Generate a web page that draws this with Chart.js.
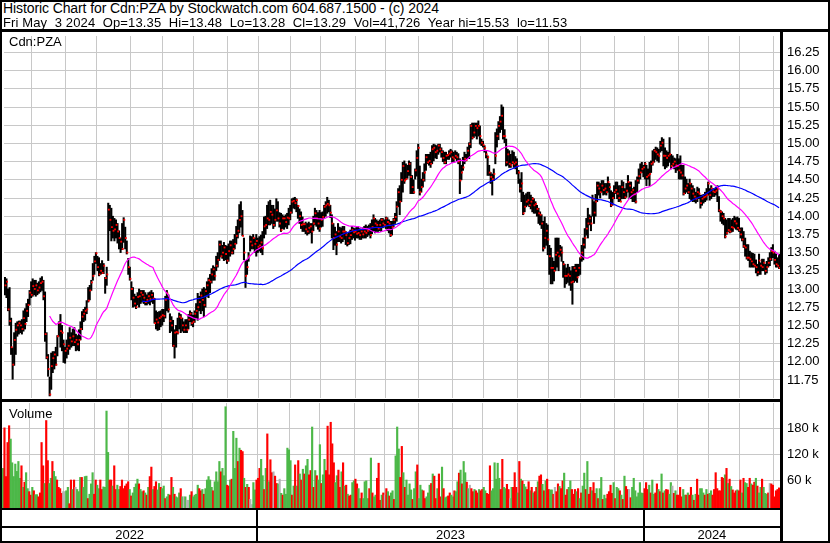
<!DOCTYPE html>
<html><head><meta charset="utf-8">
<script src="https://cdn.jsdelivr.net/npm/chart.js@4.4.1/dist/chart.umd.min.js"></script>
<style>
html,body{margin:0;padding:0;background:#fff;}
#wrap{position:relative;width:830px;height:543px;overflow:hidden;font-family:"Liberation Sans",Arial,sans-serif;color:#000;}
canvas{position:absolute;left:0;}
.ln{position:absolute;background:#000;z-index:5;}
.txt{position:absolute;white-space:pre;z-index:6;line-height:15px;}
</style></head>
<body><div id="wrap">
<canvas id="pc" width="830" height="370" style="top:32px"></canvas>
<canvas id="vc" width="830" height="141" style="top:402px"></canvas>
<div class="txt" id="h1" style="left:3px;top:1px;font-size:14px;letter-spacing:-0.1px"></div>
<div class="txt" id="h2" style="left:3px;top:15px;font-size:13px;letter-spacing:0.13px"></div>
<div class="txt" id="sym" style="left:9px;top:34px;font-size:13px"></div>
<div class="txt" id="vlab" style="left:9px;top:406px;font-size:13px"></div>
<div class="ln" style="left:0;top:0;width:830px;height:2px"></div>
<div class="ln" style="left:0;top:541px;width:830px;height:2px"></div>
<div class="ln" style="left:0;top:0;width:2px;height:543px"></div>
<div class="ln" style="left:828px;top:0;width:2px;height:543px"></div>
<div class="ln" style="left:0;top:29px;width:830px;height:3px"></div>
<div class="ln" style="left:780px;top:29px;width:3px;height:514px"></div>
<div class="ln" style="left:0;top:399px;width:781px;height:3px"></div>
<div class="ln" style="left:0;top:508px;width:781px;height:2px"></div>
<div class="ln" style="left:0;top:526px;width:781px;height:2px"></div>
</div>
<script>
// ---------- header texts ----------
const titleLine = "Historic Chart for Cdn:PZA by Stockwatch.com 604.687.1500 - (c) 2024";
const infoLine = "Fri May  3 2024  Op=13.35  Hi=13.48  Lo=13.28  Cl=13.29  Vol=41,726  Year hi=15.53  lo=11.53";
const symbolLabel = "Cdn:PZA";
const volumeLabel = "Volume";
const yearLabels = ["2022", "2023", "2024"];
const priceTicks = [11.75,12.00,12.25,12.50,12.75,13.00,13.25,13.50,13.75,14.00,14.25,14.50,14.75,15.00,15.25,15.50,15.75,16.00,16.25];
const volumeTicks = [60,120,180];   // thousands
const firstDay = "2022-05-04", lastDay = "2024-05-03";
const holidays = ["2022-05-23","2022-07-01","2022-08-01","2022-09-05","2022-10-10","2022-12-26","2022-12-27",
"2023-01-02","2023-02-20","2023-04-07","2023-05-22","2023-07-03","2023-08-07","2023-09-04","2023-10-09","2023-12-25","2023-12-26",
"2024-01-01","2024-02-19","2024-03-29"];

// ---------- daily closes ----------
const closes = [
13.05,13.10,12.72,12.56,12.20,11.96,12.30,12.44,12.50,12.53,
12.50,12.45,12.60,12.52,12.70,12.78,12.95,12.92,13.04,13.00,
13.05,12.98,13.02,13.08,13.10,12.90,12.38,12.06,11.90,11.55,
11.94,12.05,12.10,11.96,12.35,12.53,12.42,12.40,12.24,12.15,
12.18,12.22,12.33,12.28,12.35,12.27,12.30,12.24,12.30,12.45,
12.62,12.66,12.70,12.72,12.84,12.98,13.09,13.18,13.38,13.49,
13.30,13.20,13.25,13.22,13.32,13.15,13.20,14.09,13.95,13.85,
13.80,13.82,13.88,13.79,13.70,13.65,13.55,13.95,13.70,13.50,
13.30,13.14,13.00,12.88,12.80,12.75,12.89,12.90,12.95,12.92,
12.88,12.82,12.85,12.90,12.86,12.92,12.87,12.53,12.58,12.54,
12.60,12.62,12.64,12.63,12.85,12.94,12.72,12.56,12.50,12.22,
12.40,12.41,12.40,12.62,12.60,12.50,12.44,12.50,12.44,12.58,
12.66,12.53,12.55,12.66,12.70,12.75,12.82,12.91,12.85,12.78,
12.97,13.05,13.12,13.10,13.20,13.27,13.18,13.32,13.40,13.61,
13.45,13.50,13.57,13.48,13.39,13.52,13.60,13.50,13.55,13.62,
13.73,13.80,13.95,14.00,13.73,13.50,13.18,13.30,13.45,13.65,
13.60,13.70,13.62,13.66,13.58,13.60,13.64,13.56,13.86,13.88,
13.97,13.95,14.06,14.02,13.88,13.95,14.08,13.97,13.90,13.81,
13.97,13.97,13.92,13.98,13.97,14.05,14.20,14.21,14.18,14.22,
14.14,14.00,13.88,13.89,13.89,13.82,13.79,13.84,13.86,13.79,
13.90,14.04,13.97,13.90,13.83,13.95,13.99,14.13,14.15,14.17,
14.15,14.05,13.90,13.70,13.75,13.61,13.79,13.72,13.70,13.79,
13.79,13.74,13.63,13.70,13.74,13.81,13.78,13.79,13.76,13.77,
13.74,13.79,13.75,13.79,13.77,13.80,13.83,13.74,13.85,13.97,
13.90,13.88,13.83,13.88,13.95,13.90,13.88,13.97,13.92,13.90,
13.74,13.85,13.95,13.99,14.13,14.33,14.20,14.50,14.69,14.49,
14.51,14.62,14.72,14.54,14.40,14.33,14.63,14.80,14.94,14.33,
14.40,14.50,14.60,14.81,14.74,14.76,14.72,14.92,14.94,14.88,
14.90,14.97,14.92,14.88,14.80,14.74,14.83,14.84,14.86,14.88,
14.81,14.79,14.83,14.81,14.75,14.49,14.60,14.67,14.79,14.77,
14.90,14.99,15.24,15.08,15.15,15.24,15.21,15.24,15.10,15.01,
14.98,14.94,14.85,14.81,14.60,14.54,14.51,14.58,14.83,15.10,
15.24,15.30,15.38,15.10,15.10,14.74,14.85,14.72,14.70,14.74,
14.72,14.74,14.69,14.60,14.38,14.45,14.04,14.13,14.20,14.22,
14.15,14.20,14.24,14.15,14.17,14.10,14.04,14.02,13.90,13.56,
13.70,13.80,13.68,13.45,13.29,13.29,13.25,13.47,13.50,13.45,
13.54,13.50,13.34,13.18,13.18,13.20,13.18,13.09,13.10,13.29,
13.25,13.16,13.29,13.43,13.50,13.61,13.70,13.83,13.90,13.97,
13.90,14.24,14.05,14.20,14.42,14.38,14.33,14.42,14.36,14.38,
14.33,14.47,14.40,14.15,14.25,14.33,14.36,14.31,14.25,14.20,
14.40,14.33,14.26,14.35,14.47,14.42,14.33,14.36,14.30,14.20,
14.49,14.55,14.60,14.65,14.67,14.72,14.54,14.56,14.58,14.72,
14.74,14.90,14.88,14.85,14.83,14.97,15.01,14.83,14.83,14.80,
14.83,14.85,14.69,14.72,14.75,14.70,14.69,14.63,14.60,14.56,
14.31,14.38,14.42,14.33,14.45,14.38,14.31,14.27,14.24,14.33,
14.31,14.18,14.24,14.26,14.27,14.29,14.45,14.29,14.38,14.34,
14.33,14.35,14.38,14.08,14.06,14.00,13.97,13.72,13.77,13.81,
13.79,13.85,13.84,13.93,13.90,13.84,13.81,13.75,13.68,13.59,
13.57,13.43,13.43,13.41,13.38,13.34,13.32,13.30,13.23,13.39,
13.32,13.30,13.36,13.25,13.30,13.36,13.41,13.52,13.50,13.40,
13.34,13.32,13.29];

// ---------- daily highs ----------
const highs = [
13.16,13.14,13.00,13.02,12.60,12.19,12.40,12.53,12.55,12.56,
12.56,12.58,12.70,12.73,12.80,12.86,12.98,13.10,13.14,13.12,
13.12,13.08,13.10,13.15,13.17,13.12,12.96,12.40,12.10,11.79,
12.12,12.14,12.14,12.20,12.36,12.55,12.65,12.50,12.30,12.20,
12.30,12.40,12.47,12.40,12.45,12.47,12.38,12.36,12.44,12.55,
12.69,12.72,12.75,12.84,13.02,13.05,13.12,13.35,13.45,13.50,
13.45,13.43,13.35,13.39,13.35,13.16,13.30,14.18,14.15,14.11,
14.00,13.97,13.95,13.90,13.80,13.70,13.90,13.98,13.85,13.66,
13.42,13.30,13.10,13.02,12.93,12.90,12.95,13.00,12.98,12.98,
12.98,12.95,12.92,12.95,12.96,12.98,12.95,12.87,12.70,12.68,
12.69,12.70,12.72,12.72,12.90,12.98,12.92,12.66,12.62,12.57,
12.44,12.50,12.60,12.67,12.65,12.60,12.55,12.58,12.58,12.65,
12.70,12.68,12.64,12.70,12.80,12.94,12.90,12.96,13.00,13.02,
13.00,13.10,13.15,13.20,13.28,13.32,13.30,13.45,13.50,13.66,
13.66,13.60,13.64,13.60,13.59,13.62,13.66,13.66,13.68,13.75,
13.86,13.95,14.16,14.20,14.08,13.70,13.39,13.40,13.50,13.73,
13.72,13.75,13.70,13.75,13.70,13.72,13.74,13.79,13.99,14.00,
14.15,14.20,14.22,14.15,14.15,14.10,14.24,14.20,14.05,14.04,
14.02,14.00,14.02,14.04,14.11,14.15,14.24,14.25,14.26,14.24,
14.15,14.10,14.06,13.99,13.90,13.92,13.90,13.92,13.90,13.90,
14.00,14.11,14.08,14.05,14.08,14.05,14.06,14.15,14.20,14.26,
14.22,14.15,14.02,13.90,13.85,13.79,13.90,13.85,13.84,13.86,
13.86,13.79,13.76,13.78,13.81,13.86,13.84,13.83,13.85,13.86,
13.83,13.81,13.84,13.86,13.88,13.86,13.88,13.90,13.95,14.02,
13.97,13.95,13.93,13.95,13.97,13.97,13.95,13.99,13.98,13.95,
13.93,13.93,13.97,14.04,14.20,14.38,14.42,14.60,14.74,14.76,
14.72,14.70,14.76,14.74,14.56,14.50,14.65,14.90,14.99,14.69,
14.51,14.60,14.72,14.85,14.85,14.85,14.88,14.97,14.99,14.98,
14.97,14.99,14.99,14.94,14.90,14.88,14.88,14.85,14.90,14.92,
14.90,14.88,14.90,14.88,14.86,14.79,14.70,14.81,14.88,14.85,
14.95,15.01,15.26,15.28,15.28,15.28,15.28,15.31,15.24,15.06,
15.03,14.97,14.90,14.83,14.70,14.60,14.58,14.65,15.15,15.20,
15.30,15.37,15.53,15.50,15.19,15.06,14.92,14.90,14.85,14.90,
14.88,14.82,14.79,14.63,14.51,14.60,14.33,14.29,14.31,14.33,
14.33,14.29,14.26,14.24,14.20,14.15,14.11,14.06,14.02,13.93,
13.99,13.90,13.88,13.60,13.56,13.43,13.38,13.70,13.70,13.70,
13.60,13.58,13.38,13.34,13.29,13.34,13.30,13.25,13.31,13.31,
13.34,13.34,13.34,13.43,13.60,13.70,13.83,13.97,14.11,14.02,
14.00,14.29,14.20,14.30,14.47,14.47,14.45,14.49,14.49,14.45,
14.45,14.54,14.45,14.35,14.33,14.42,14.47,14.47,14.42,14.42,
14.49,14.47,14.38,14.45,14.56,14.47,14.47,14.38,14.40,14.49,
14.54,14.65,14.72,14.74,14.70,14.74,14.70,14.65,14.74,14.76,
14.90,14.92,14.95,14.94,14.92,15.03,15.08,15.06,14.94,14.90,
14.88,15.08,14.85,14.83,14.80,14.79,14.85,14.79,14.83,14.70,
14.70,14.54,14.51,14.45,14.51,14.45,14.42,14.38,14.33,14.40,
14.38,14.29,14.29,14.30,14.33,14.38,14.47,14.38,14.42,14.38,
14.38,14.40,14.42,14.27,14.08,14.06,14.04,13.97,13.95,13.97,
13.97,13.95,13.97,14.00,13.98,13.99,13.97,13.84,13.84,13.79,
13.70,13.61,13.61,13.52,13.50,13.49,13.48,13.40,13.34,13.48,
13.36,13.41,13.41,13.34,13.38,13.43,13.50,13.57,13.61,13.52,
13.48,13.43,13.48];

// ---------- daily lows ----------
const lows = [
12.92,12.88,12.70,12.50,12.10,11.76,11.95,12.10,12.35,12.38,
12.40,12.38,12.42,12.45,12.55,12.62,12.78,12.88,12.90,12.92,
12.90,12.92,12.94,12.96,12.98,12.85,12.28,12.04,11.80,11.53,
11.62,11.85,11.90,11.95,12.08,12.35,12.20,12.15,11.99,11.98,
12.05,12.10,12.17,12.20,12.22,12.22,12.15,12.16,12.15,12.30,
12.44,12.55,12.57,12.66,12.82,12.85,12.98,13.12,13.20,13.35,
13.25,13.18,13.20,13.21,13.21,12.94,13.05,13.39,13.80,13.66,
13.70,13.66,13.70,13.63,13.55,13.50,13.54,13.64,13.55,13.48,
13.20,13.12,12.85,12.75,12.76,12.73,12.78,12.75,12.80,12.82,
12.80,12.78,12.78,12.80,12.78,12.82,12.80,12.53,12.45,12.43,
12.44,12.48,12.50,12.55,12.60,12.70,12.68,12.40,12.42,12.21,
12.05,12.20,12.38,12.45,12.40,12.42,12.40,12.40,12.40,12.45,
12.55,12.50,12.48,12.54,12.60,12.57,12.70,12.66,12.70,12.62,
12.75,12.90,12.88,12.95,13.08,13.12,13.12,13.25,13.30,13.39,
13.44,13.42,13.39,13.40,13.35,13.38,13.45,13.48,13.48,13.55,
13.62,13.70,13.77,13.85,13.73,13.40,13.02,13.20,13.38,13.52,
13.55,13.55,13.50,13.45,13.50,13.52,13.50,13.47,13.70,13.75,
13.83,13.88,13.88,13.90,13.83,13.86,13.93,13.93,13.85,13.79,
13.83,13.82,13.85,13.83,13.88,13.95,14.04,14.11,14.10,14.06,
13.97,13.90,13.83,13.79,13.79,13.76,13.74,13.76,13.77,13.63,
13.80,13.88,13.86,13.82,13.79,13.85,13.86,13.97,14.00,14.04,
14.06,13.98,13.70,13.54,13.60,13.47,13.65,13.65,13.63,13.65,
13.68,13.61,13.59,13.61,13.62,13.68,13.70,13.67,13.70,13.70,
13.68,13.68,13.70,13.70,13.70,13.72,13.74,13.70,13.76,13.79,
13.77,13.79,13.79,13.80,13.79,13.84,13.85,13.83,13.80,13.77,
13.72,13.74,13.85,13.90,13.93,14.13,14.02,14.20,14.33,14.45,
14.50,14.52,14.56,14.31,14.31,14.31,14.51,14.55,14.38,14.29,
14.33,14.40,14.48,14.63,14.72,14.70,14.67,14.72,14.76,14.80,
14.79,14.85,14.88,14.81,14.75,14.72,14.72,14.78,14.78,14.81,
14.74,14.74,14.79,14.76,14.72,14.31,14.50,14.63,14.72,14.76,
14.79,14.79,14.94,15.06,15.08,15.10,15.06,15.10,14.99,14.97,
14.95,14.88,14.80,14.56,14.56,14.45,14.29,14.49,14.72,14.95,
15.05,15.15,15.19,15.06,15.01,14.69,14.70,14.67,14.67,14.72,
14.67,14.65,14.58,14.45,14.33,14.20,14.02,14.06,14.13,14.15,
14.13,14.10,14.06,14.04,14.04,14.00,13.90,13.88,13.83,13.52,
13.56,13.60,13.47,13.20,13.07,13.07,13.11,13.25,13.30,13.25,
13.45,13.38,13.16,13.02,13.07,13.09,13.05,12.98,12.79,13.09,
13.11,13.09,13.18,13.20,13.38,13.40,13.56,13.74,13.70,13.88,
13.80,14.00,13.90,14.00,14.20,14.29,14.25,14.33,14.29,14.30,
14.29,14.33,14.24,14.13,14.15,14.24,14.31,14.24,14.20,14.20,
14.24,14.24,14.24,14.26,14.33,14.24,14.24,14.20,14.20,14.18,
14.33,14.45,14.51,14.60,14.54,14.51,14.42,14.51,14.42,14.60,
14.70,14.74,14.78,14.76,14.74,14.88,14.90,14.69,14.65,14.67,
14.69,14.74,14.65,14.69,14.65,14.60,14.63,14.51,14.51,14.51,
14.29,14.31,14.33,14.31,14.24,14.22,14.20,14.20,14.18,14.20,
14.24,14.11,14.15,14.18,14.20,14.22,14.29,14.22,14.24,14.27,
14.27,14.29,14.20,14.06,13.93,13.90,13.88,13.70,13.75,13.79,
13.77,13.78,13.79,13.84,13.82,13.81,13.79,13.70,13.66,13.57,
13.45,13.41,13.39,13.30,13.30,13.30,13.30,13.22,13.18,13.20,
13.20,13.25,13.25,13.20,13.22,13.30,13.32,13.39,13.43,13.34,
13.30,13.30,13.28];

// ---------- daily volume (thousands of shares) ----------
const volumes = [
87,181,68,147,186,155,100,68,97,80,
103,64,93,43,55,77,40,33,25,43,
35,26,26,21,30,147,93,52,198,105,
52,64,103,80,68,60,43,40,29,33,
33,35,43,5,60,38,60,43,38,33,
66,66,43,68,69,17,27,51,77,27,
60,48,40,60,38,44,43,220,124,60,
60,46,93,38,48,38,45,60,40,46,
51,56,38,23,30,43,51,62,51,38,
33,35,30,25,43,68,90,38,45,56,
37,52,43,40,46,17,21,27,25,66,
43,27,21,19,30,40,21,21,21,13,
13,25,33,21,25,27,48,40,35,38,
27,40,60,68,60,43,35,56,79,56,
103,79,87,70,230,48,46,60,62,173,
87,157,103,134,129,126,64,43,50,43,
15,3,54,37,60,64,87,108,70,38,
87,167,56,107,77,79,69,52,51,62,
29,25,40,27,134,130,105,25,46,95,
46,105,74,60,85,74,93,108,72,82,
183,43,82,70,60,142,52,72,108,82,
185,72,194,144,100,54,70,83,43,79,
100,46,48,27,23,25,54,58,62,51,
40,17,30,17,56,58,17,40,111,30,
21,25,64,99,13,25,30,25,40,33,
23,30,35,15,116,183,132,66,138,77,
43,60,25,51,37,15,40,79,95,17,
48,37,35,17,21,30,48,52,74,69,
17,40,74,21,90,40,19,21,23,30,
25,21,35,33,56,76,83,51,103,77,
55,40,48,40,33,38,35,30,38,35,
38,43,35,29,27,93,35,40,100,62,
99,64,38,108,43,40,50,38,17,43,
43,77,43,30,103,62,58,50,44,38,
56,35,43,30,33,43,56,69,72,50,
35,58,62,38,37,37,27,43,33,51,
45,40,58,76,25,38,43,58,38,27,
38,33,40,17,30,46,76,38,103,27,
43,35,54,29,40,17,40,66,15,25,
17,27,33,48,29,54,17,43,40,35,
25,15,69,45,38,38,19,43,64,35,
21,30,54,30,29,40,54,38,48,30,
60,27,30,51,38,33,74,30,35,38,
37,27,54,46,29,35,25,25,43,21,
38,25,25,30,25,43,25,13,27,62,
25,40,40,30,25,38,27,29,35,25,
38,77,40,35,35,66,64,72,87,52,
62,45,37,30,35,37,35,60,30,64,
54,52,43,64,51,48,55,64,46,30,
43,62,43,29,27,30,52,51,48,21,
35,38,41.7];

// ---------- day direction as coloured in the volume panel (g up, r down, n unchanged) ----------
const volumeDirRows = [
"grrrrggggg","ggrgrggrrg","rggrrrrgrr","ggrggrrrrn","nggrrgrngg","grgggrgggr","rggrrggggr","rgrrggrrrr","rrgrggggrg","grgrgrrgrr",
"ggrggrggrr","grgggrgngn","ngrggggrrg","rgggggrggg","grgggrrgrg","ggrgrrgrgr","nnggrrrggr","grgrrnrrgn","grgggggrgr","grgrgrggrr",
"grgrggrggr","rrrrrggrrg","rgrgrrggrr","ggrggggrgr","ggrrrgrnrg","rggrgggrrg","rggggrggrg","ggrrgggrgr","rgrrgrggrr","ggrggrgrgg",
"rgnrrgrrgr","rggrrrgggg","ggrrggrrng","rrrgrgrggr","rgrgrrgrrg","rgrrggrnrr","grrgrrggrr","rgrgrggrgr","rgrrgrggrg","grrrrgrggr",
"grgrrnrggg","gggggrrrgr","ggrrgrgrgr","rggnrgrrrr","ggrgrrgrgr","rgggrgrggr","rrrrrrrgrg","rgrrrgrrgr","ggrrgrrgrg","grgggrnrrr",
"rrr"];
const volumeDir = volumeDirRows.join("");

// ---------- settings ----------
const MA_SHORT = 30, MA_LONG = 90;

document.getElementById('h1').textContent = titleLine;
document.getElementById('h2').textContent = infoLine;
document.getElementById('sym').textContent = symbolLabel;
document.getElementById('vlab').textContent = volumeLabel;

// trading calendar (weekdays minus exchange holidays)
function buildDays(){
  const out=[]; const hs=new Set(holidays);
  let d=new Date(firstDay+"T00:00:00Z"); const end=new Date(lastDay+"T00:00:00Z");
  while(d<=end){
    const wd=d.getUTCDay(); const s=d.toISOString().slice(0,10);
    if(wd!==0 && wd!==6 && !hs.has(s)) out.push(s);
    d=new Date(d.getTime()+86400000);
  }
  return out;
}
const days = buildDays();
const N = closes.length;
const monthStarts=[], yearStarts=[];
for(let i=1;i<Math.min(N,days.length);i++){
  if(days[i].slice(5,7)!==days[i-1].slice(5,7)) monthStarts.push(i);
  if(days[i].slice(0,4)!==days[i-1].slice(0,4)) yearStarts.push(i);
}

function sma(arr,n){
  const out=[]; let s=0;
  for(let i=0;i<arr.length;i++){ s+=arr[i]; if(i>=n) s-=arr[i-n]; if(i>=n-1) out.push({x:i,y:s/n}); }
  return out;
}

Chart.defaults.font.family = "'Liberation Sans', Arial, sans-serif";
Chart.defaults.font.size = 13;
Chart.defaults.color = '#000';

const GRID = '#c8c8c8';
const xMin = -0.6, xMax = N - 1 + 0.6;

function xScaleCfg(){
  return {
    type:'linear', min:xMin, max:xMax, offset:false,
    grid:{color:GRID, lineWidth:1, drawTicks:false, offset:false},
    border:{display:false},
    ticks:{display:false},
    afterBuildTicks:s=>{ s.ticks = monthStarts.map(i=>({value:i-1.5})); },
    afterFit:s=>{ s.height=0; s.paddingLeft=0; s.paddingRight=0; }
  };
}

// ---------- price chart ----------
new Chart(document.getElementById('pc'), {
  data:{ datasets:[
    {type:'line', data:sma(closes,MA_SHORT), borderColor:'#ff00ff', borderWidth:1.2, pointRadius:0, tension:0, order:0},
    {type:'line', data:sma(closes,MA_LONG), borderColor:'#0000ff', borderWidth:1.2, pointRadius:0, tension:0, order:1},
    {type:'scatter', data:closes.map((c,i)=>({x:i+0.4,y:c})), pointStyle:'rect', pointRadius:1.3, backgroundColor:'#ff0000', borderWidth:0, order:2},
    {type:'bar', data:closes.map((c,i)=>({x:i,y:[lows[i],highs[i]]})), backgroundColor:'#000', barThickness:1.4, grouped:false, order:3}
  ]},
  options:{
    responsive:false, animation:false, events:[],
    plugins:{legend:{display:false}, tooltip:{enabled:false}},
    layout:{padding:{left:2,right:2,top:0,bottom:3}},
    scales:{
      x:xScaleCfg(),
      y:{position:'right', min:11.502, max:16.476,
         grid:{color:GRID, lineWidth:1, drawTicks:false}, border:{display:false},
         afterBuildTicks:s=>{ s.ticks = priceTicks.map(v=>({value:v})); },
         ticks:{padding:7, callback:v=>Number(v).toFixed(2), font:{size:13}},
         afterFit:s=>{ s.width=48; s.paddingTop=0; s.paddingBottom=0; }}
    }
  }
});

// ---------- volume chart ----------
const VMIN = -7.3, VMAX = 238.7;
const dirColor = {g:'#4cb848', r:'#ff0000', n:'#b4b4b4'};
const yearRow = {
  id:'yearRow',
  afterDraw(chart){
    const ctx=chart.ctx, xs=chart.scales.x, a=chart.chartArea;
    const bounds=[a.left, ...yearStarts.map(i=>xs.getPixelForValue(i-1.5)), a.right];
    ctx.save();
    ctx.fillStyle='#000';
    yearStarts.forEach(i=>{ const px=Math.round(xs.getPixelForValue(i-1.5)); ctx.fillRect(px-1, a.bottom, 2, chart.height-a.bottom); });
    ctx.font="13px 'Liberation Sans', Arial, sans-serif";
    ctx.textAlign='center'; ctx.textBaseline='middle';
    yearLabels.forEach((lab,k)=>{ if(k<bounds.length-1) ctx.fillText(lab,(bounds[k]+bounds[k+1])/2, 133); });
    ctx.restore();
  }
};
new Chart(document.getElementById('vc'), {
  type:'bar',
  data:{ datasets:[
    {data:volumes.map((v,i)=>({x:i,y:[VMIN,v]})), backgroundColor:volumes.map((v,i)=>dirColor[volumeDir[i]]||dirColor.n), barThickness:1.5, grouped:false}
  ]},
  options:{
    responsive:false, animation:false, events:[],
    plugins:{legend:{display:false}, tooltip:{enabled:false}},
    layout:{padding:{left:2,right:2,top:1,bottom:34}},
    scales:{
      x:xScaleCfg(),
      y:{position:'right', min:VMIN, max:VMAX,
         grid:{color:GRID, lineWidth:1, drawTicks:false}, border:{display:false},
         afterBuildTicks:s=>{ s.ticks = volumeTicks.map(v=>({value:v})); },
         ticks:{padding:7, callback:v=>v+' k', font:{size:13}},
         afterFit:s=>{ s.width=48; s.paddingTop=0; s.paddingBottom=0; }}
    }
  },
  plugins:[yearRow]
});
</script>
</body></html>
